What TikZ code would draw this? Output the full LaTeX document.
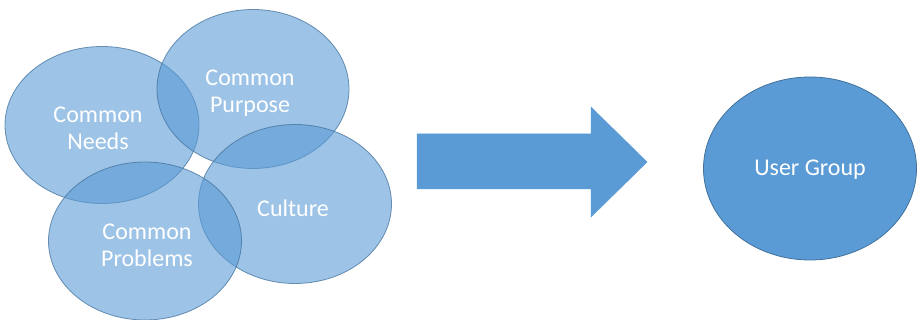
\documentclass[tikz,border=0pt]{standalone}
\usepackage{fontspec}
\setmainfont{Carlito}
\usetikzlibrary{shapes.geometric}
\definecolor{obl}{HTML}{5B9BD5}
\definecolor{obd}{HTML}{41719C}
\tikzset{
  venn/.style={ellipse, fill=obl, fill opacity=0.6, draw=obd, draw opacity=0.75, line width=0.8pt, inner sep=0pt},
  ugroup/.style={ellipse, fill=obl, draw=obd, line width=0.8pt, inner sep=0pt},
  lbl/.style={text=white, align=center, inner sep=0pt, font=\fontsize{24}{27}\selectfont},
  blockarrow/.style={fill=obl, draw=obl, line width=0.5pt}
}
\begin{document}
\begin{tikzpicture}[x=1pt,y=-1pt]
\useasboundingbox (0,0) rectangle (920,320);
\node[venn, minimum width=194pt, minimum height=157pt] (needs) at (102,125) {};
\node[venn, minimum width=192pt, minimum height=159pt] (purpose) at (253,89) {};
\node[venn, minimum width=193pt, minimum height=159pt] (culture) at (295,204) {};
\node[venn, minimum width=193pt, minimum height=158pt] (problems) at (145,241) {};
\node[lbl] (needsT) at (98,128) {Common\\Needs};
\node[lbl] (purposeT) at (250,93) {Common\\Purpose};
\node[lbl] (cultureT) at (293,208) {Culture};
\node[lbl] (problemsT) at (147,245) {Common\\Problems};
\coordinate (a1) at (417,134);
\coordinate (a2) at (591,134);
\coordinate (a3) at (591,107);
\coordinate (a4) at (647,162);
\coordinate (a5) at (591,217);
\coordinate (a6) at (591,189);
\coordinate (a7) at (417,189);
\fill[blockarrow] (a1) -- (a2) -- (a3) -- (a4) -- (a5) -- (a6) -- (a7) -- cycle;
\node[ugroup, minimum width=213pt, minimum height=183pt] (user) at (810,168.5) {};
\node[lbl] (userT) at (810,170) {User Group};
\end{tikzpicture}
\end{document}
